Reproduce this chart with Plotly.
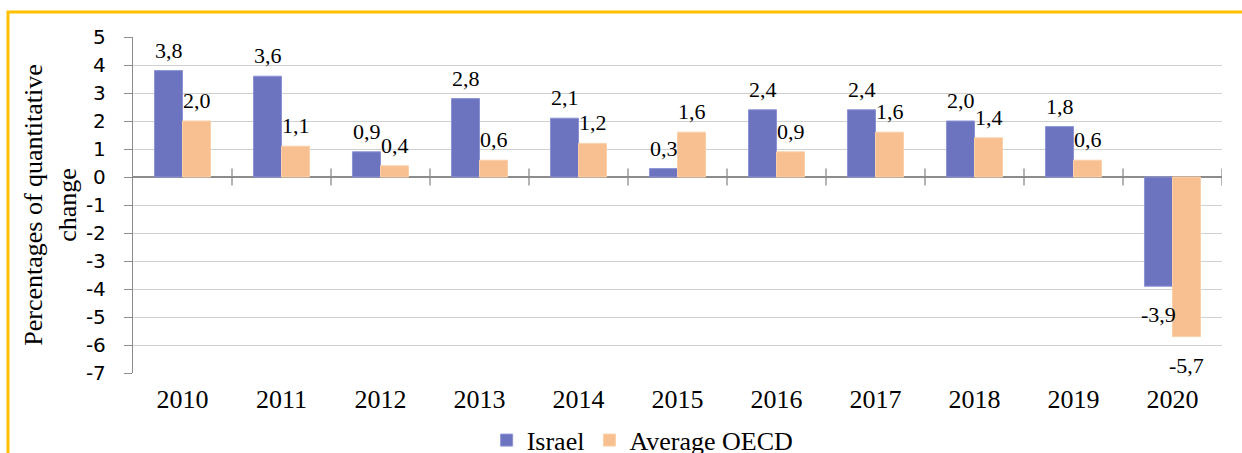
import plotly.graph_objects as go

years = ["2010", "2011", "2012", "2013", "2014", "2015", "2016", "2017", "2018", "2019", "2020"]
israel = [3.8, 3.6, 0.9, 2.8, 2.1, 0.3, 2.4, 2.4, 2.0, 1.8, -3.9]
oecd = [2.0, 1.1, 0.4, 0.6, 1.2, 1.6, 0.9, 1.6, 1.4, 0.6, -5.7]
y_ticks = list(range(-7, 6))

SERIF = "Liberation Serif"
SANS = "DejaVu Sans"
C_ISR = "#6C74C0"
C_OECD = "#F8C090"


def fmt(v):
    return f"{v:.1f}".replace(".", ",")


fig = go.Figure()
fig.add_trace(go.Bar(
    x=years, y=israel, name="Israel",
    marker=dict(color=C_ISR, line=dict(color="#8C92D4", width=1)),
))
fig.add_trace(go.Bar(
    x=years, y=oecd, name="Average OECD",
    marker=dict(color=C_OECD, line=dict(color="#FAD0AA", width=1)),
))

# data labels (outside end, Excel style); category axis -> serial index
annotations = []
for series, shift in ((israel, -14), (oecd, 14)):
    for idx, v in enumerate(series):
        annotations.append(dict(
            x=idx, y=v, xref="x", yref="y", text=fmt(v), showarrow=False,
            xshift=shift, yanchor="bottom" if v >= 0 else "top",
            yshift=6 if v >= 0 else -14,
            font=dict(family=SERIF, size=22, color="#000000"),
        ))

# tick marks crossing the zero line at category boundaries
shapes = []
for i in range(1, len(years) + 1):
    shapes.append(dict(type="line", xref="x", yref="y",
                       x0=i - 0.5, x1=i - 0.5, y0=-0.3, y1=0.3,
                       line=dict(color="#8C8C8C", width=1.3)))
# outer gold border
shapes.append(dict(type="rect", xref="paper", yref="paper",
                   x0=-0.1148, x1=1.03, y0=-0.3, y1=1.0744,
                   line=dict(color="#FFC000", width=3), layer="below"))

fig.update_layout(
    width=1242, height=453,
    font=dict(family=SERIF, color="#000000"),
    margin=dict(l=133, r=20, t=37, b=80, autoexpand=False),
    paper_bgcolor="white", plot_bgcolor="white",
    barmode="group", bargap=0.434, bargroupgap=0,
    showlegend=True,
    legend=dict(orientation="h", x=0.468, xanchor="center", y=-0.2, yanchor="middle",
                font=dict(family=SERIF, size=26, color="#000000"),
                itemwidth=30, traceorder="normal"),
    shapes=shapes,
    annotations=annotations,
    xaxis=dict(type="category", range=[-0.5, len(years) - 0.5],
               showgrid=False, showline=False, ticks="",
               tickfont=dict(family=SERIF, size=26, color="#000000"),
               ticklabelstandoff=8, zeroline=False, automargin=False),
    yaxis=dict(range=[-7, 5], tickvals=y_ticks, ticktext=[str(v) for v in y_ticks],
               showgrid=True, gridcolor="#D0D0D0", gridwidth=1.3,
               showline=True, linecolor="#8C8C8C", linewidth=1.3,
               ticks="outside", ticklen=8, tickcolor="#8C8C8C",
               tickfont=dict(family=SANS, size=20, color="#000000"),
               ticklabelstandoff=14,
               zeroline=True, zerolinecolor="#8C8C8C", zerolinewidth=1.5,
               automargin=False,
               title=dict(text="Percentages of quantitative<br>change",
                          font=dict(family=SERIF, size=26, color="#000000"),
                          standoff=1)),
)

fig.write_html("out.html", config={"displayModeBar": False},
               post_script="document.body.style.margin='0';")
